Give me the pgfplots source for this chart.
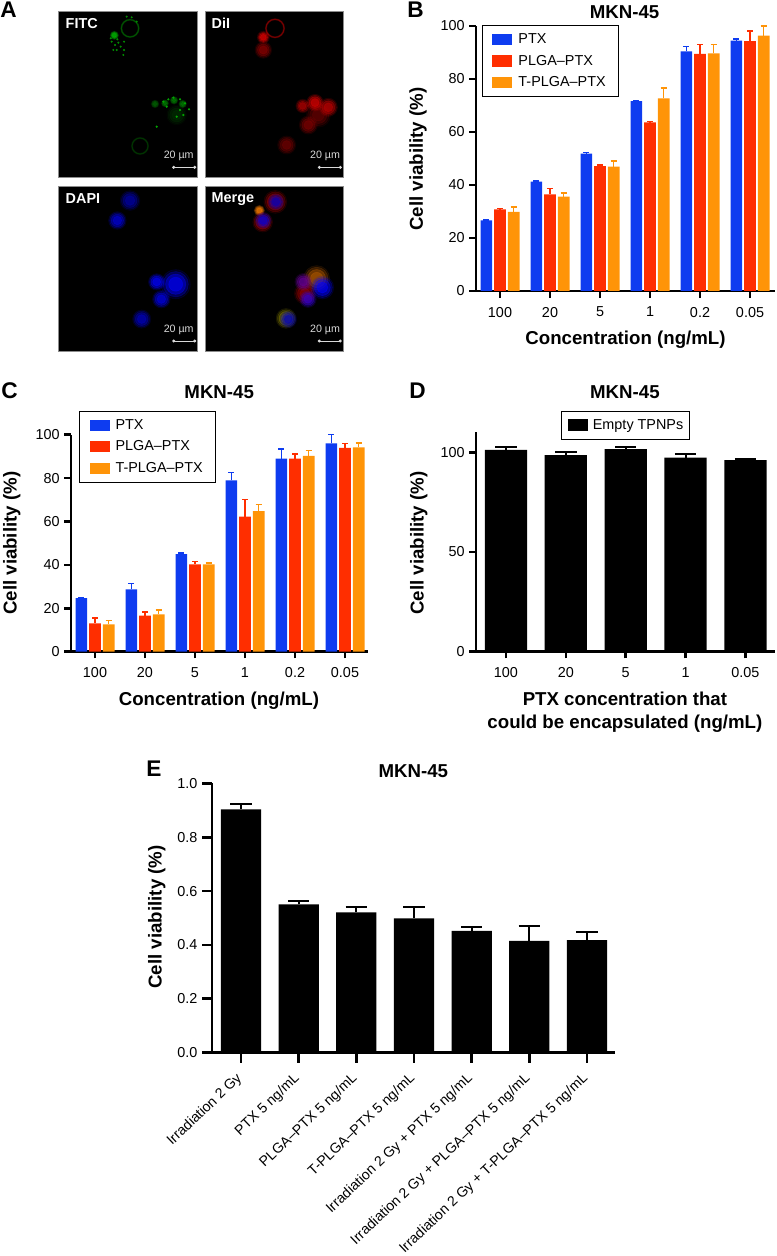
\documentclass[border=0pt]{standalone}
\usepackage{fontspec}
\setmainfont{Liberation Sans}
\usepackage{pgfplots}
\pgfplotsset{compat=1.18}
\definecolor{cblue}{HTML}{0E3CF0}
\definecolor{cred}{HTML}{FF2E00}
\definecolor{corange}{HTML}{FF9408}
\def\tickf{\fontsize{10.8}{12.5}\selectfont}
\def\labf{\fontsize{14}{16.8}\selectfont\bfseries}
\newcommand{\blob}[4]{%
 \addplot[only marks,mark=*,color=#1,mark size=#4*1.15,opacity=.12,mark options={draw=none}] coordinates {(#2,#3)};
 \addplot[only marks,mark=*,color=#1,mark size=#4,opacity=.25,mark options={draw=none}] coordinates {(#2,#3)};
 \addplot[only marks,mark=*,color=#1,mark size=#4*0.8,opacity=.4,mark options={draw=none}] coordinates {(#2,#3)};
 \addplot[only marks,mark=*,color=#1,mark size=#4*0.55,opacity=.5,mark options={draw=none}] coordinates {(#2,#3)};
}
\newcommand{\ring}[4]{%
 \addplot[only marks,mark=o,color=#1,mark size=#4,line width=1.4pt,opacity=.35] coordinates {(#2,#3)};
 \addplot[only marks,mark=o,color=#1,mark size=#4,line width=.7pt,opacity=.6] coordinates {(#2,#3)};
}
\pgfplotsset{
 micro/.style={scale only axis,width=104pt,height=124pt,at={#1},anchor=south west,clip=true,
   xtick=\empty,ytick=\empty,y dir=reverse,axis background/.style={fill=black},
   axis line style={color=black!45,line width=.6pt}},
 barax/.style={scale only axis,clip=false,axis x line=bottom,axis y line=left,
   axis line style={-,line width=2.1pt},tick align=outside,
   tick style={color=black,line width=2pt},major tick length=5pt,
   ymin=0,
   every axis title shift=0pt,
   title style={font=\labf},
   xlabel style={font=\labf,align=center,anchor=center,yshift=-1.5pt},
   ylabel style={font=\labf,anchor=center},
   tick label style={font=\tickf},
   xticklabel style={yshift=-3.5pt},
   /pgf/number format/assume math mode=true,
   ybar,
   legend cell align=left,
   legend image code/.code={\fill[##1,draw=none] (0pt,-4.2pt) rectangle (15pt,4.2pt);\path (17.5pt,0pt);},
 },
 errs/.style n args={3}{error bars/.cd,y dir=plus,y explicit,error mark options={rotate=90,mark size=#1,line width=#3,color=#2},error bar style={line width=#3,color=#2}},
}
\begin{document}
\begin{tikzpicture}
\useasboundingbox (0pt,0pt) rectangle (582pt,942pt);
% ---------- A
\begin{axis}[micro={({58.7*.75pt},{(1256-177)*.75pt})},xmin=176,xmax=592,ymin=35,ymax=531]
\ring{green!45!black}{390}{85}{6.5pt}
\blob{green!75!black}{343}{106}{2.8pt}
\addplot[only marks,mark=*,mark size=.55pt,color=green!55!black] coordinates {(335,125)(345,135)(355,128)(350,150)(362,140)(372,150)(340,150)(372,125)(370,165)(410,65)(380,50)(395,52)(332,115)(352,118)};
\blob{green!40!black}{465}{312}{2.6pt}
\blob{green!18!black}{530}{345}{6.5pt}
\blob{green!50!black}{495}{310}{2.4pt}
\blob{green!50!black}{522}{301}{2.6pt}
\blob{green!50!black}{548}{312}{2.6pt}
\addplot[only marks,mark=*,mark size=.6pt,color=green!65!black] coordinates {(490,305)(505,298)(520,293)(540,298)(555,310)(567,328)(540,330)(500,320)(530,350)(550,345)(470,380)};
\ring{green!28!black}{420}{438}{6pt}
\addplot[color=white!85!black,line width=.6pt,mark=*,mark size=.8pt] coordinates {(521,502)(584,502)};
\node[white,font=\fontsize{10.8}{12}\selectfont\bfseries,anchor=west] at (axis cs:183,71) {FITC};
\node[white!85!black,font=\fontsize{8}{10}\selectfont] at (axis cs:536,468) {20 µm};
\end{axis}
\begin{axis}[micro={({205*.75pt},{(1256-177)*.75pt})},xmin=615,xmax=1031,ymin=35,ymax=531]
\ring{red!65!black}{825}{85}{6.8pt}
\blob{red!90!black}{790}{112}{4pt}
\blob{red!55!black}{790}{150}{5.5pt}
\blob{red!40!black}{955}{345}{8pt}
\blob{red!70!black}{908}{318}{4.5pt}
\blob{red!85!black}{945}{308}{5.5pt}
\blob{red!75!black}{985}{322}{6pt}
\blob{red!50!black}{925}{375}{6pt}
\blob{red!45!black}{860}{435}{6pt}
\addplot[color=white!85!black,line width=.6pt,mark=*,mark size=.8pt] coordinates {(958,502)(1021,502)};
\node[white,font=\fontsize{10.8}{12}\selectfont\bfseries,anchor=west] at (axis cs:621,71) {DiI};
\node[white!85!black,font=\fontsize{8}{10}\selectfont] at (axis cs:975,468) {20 µm};
\end{axis}
\begin{axis}[micro={({58.7*.75pt},{(1256-351.3)*.75pt})},xmin=176,xmax=592,ymin=556,ymax=1054]
\blob{blue!65!black}{390}{600}{6.5pt}
\blob{blue!85!black}{352}{660}{5.8pt}
\blob{blue}{470}{845}{5.4pt}
\blob{blue}{527}{852}{9.5pt}
\blob{blue!90!black}{484}{897}{5.8pt}
\blob{blue!75!black}{425}{957}{6pt}
\addplot[color=white!85!black,line width=.6pt,mark=*,mark size=.8pt] coordinates {(521,1023)(584,1023)};
\node[white,font=\fontsize{10.8}{12}\selectfont\bfseries,anchor=west] at (axis cs:183,594) {DAPI};
\node[white!85!black,font=\fontsize{8}{10}\selectfont] at (axis cs:536,990) {20 µm};
\end{axis}
\begin{axis}[micro={({205*.75pt},{(1256-351.3)*.75pt})},xmin=615,xmax=1031,ymin=556,ymax=1054]
\blob{red!70!black}{826}{604}{7.5pt}
\blob{orange}{778}{630}{3.5pt}
\blob{red!70!black}{788}{665}{6.5pt}
\blob{orange!70!black}{950}{835}{8.5pt}
\blob{red!60!black}{915}{880}{7pt}
\blob{olive}{858}{955}{6.5pt}
\blob{blue!75!black}{828}{604}{5.2pt}
\blob{blue!85!black}{790}{660}{5.2pt}
\blob{blue!60!red}{910}{845}{5.6pt}
\blob{blue}{967}{862}{7.5pt}
\blob{blue!80!red}{924}{897}{5.5pt}
\blob{blue!75!black}{865}{958}{5.5pt}
\addplot[color=white!85!black,line width=.6pt,mark=*,mark size=.8pt] coordinates {(958,1023)(1021,1023)};
\node[white,font=\fontsize{10.8}{12}\selectfont\bfseries,anchor=west] at (axis cs:621,594) {Merge};
\node[white!85!black,font=\fontsize{8}{10}\selectfont] at (axis cs:975,990) {20 µm};
\end{axis}
% ---------- B
\begin{axis}[barax,at={({476*.75pt},{(1256-291)*.75pt})},anchor=south west,width=224.25pt,height=198.75pt,
 xmin=-0.48,xmax=5.5,ymax=100,ytick={0,20,...,100},xtick={0,...,5},xticklabels={100,20,5,1,0.2,0.05},
 bar width=8.75pt,
 title={MKN-45},title style={at={(0.497,1.052)},anchor=center},
 xlabel={Concentration (ng/mL)},xlabel style={at={(0.5,-0.177)}},
 ylabel={Cell viability (\%)},ylabel style={at={(-0.194,0.498)}},
 legend style={at={(0.021,1.003)},anchor=north west,draw=black,line width=.5pt,font=\tickf,row sep=3.2pt,inner xsep=7.4pt,inner ysep=4pt},
]
\addplot[fill=cblue,draw=none,bar shift=-10.25pt,errs={2.2pt}{cblue}{1.2pt}] coordinates {(0,26.6)+-(0,0.3)(1,41.3)+-(0,0.2)(2,51.8)+-(0,0.5)(3,71.6)+-(0,0.2)(4,90.4)+-(0,1.8)(5,94.5)+-(0,0.5)};
\addplot[fill=cred,draw=none,bar shift=0pt,errs={2.2pt}{cred}{1.2pt}] coordinates {(0,30.8)+-(0,0.3)(1,36.5)+-(0,2.2)(2,47.1)+-(0,0.5)(3,63.6)+-(0,0.3)(4,89.5)+-(0,3.5)(5,94.3)+-(0,3.9)};
\addplot[fill=corange,draw=none,bar shift=10.25pt,errs={2.2pt}{corange}{1.2pt}] coordinates {(0,29.9)+-(0,1.7)(1,35.6)+-(0,1.4)(2,46.9)+-(0,2.2)(3,72.7)+-(0,4)(4,89.7)+-(0,3.3)(5,96.4)+-(0,3.6)};
\legend{PTX,PLGA–PTX,T-PLGA–PTX}
\end{axis}
% ---------- C
\begin{axis}[barax,at={({71*.75pt},{(1256-651.7)*.75pt})},anchor=south west,width=222.75pt,height=162.75pt,
 xmin=-0.48,xmax=5.46,ymax=100,ytick={0,20,...,100},xtick={0,...,5},xticklabels={100,20,5,1,0.2,0.05},
 bar width=8.75pt,
 title={MKN-45},title style={at={(0.499,1.198)},anchor=center},
 xlabel={Concentration (ng/mL)},xlabel style={at={(0.498,-0.218)}},
 ylabel={Cell viability (\%)},ylabel style={at={(-0.199,0.5)}},
 legend style={at={(0.028,1.11)},anchor=north west,draw=black,line width=.5pt,font=\tickf,row sep=3.2pt,inner xsep=7.4pt,inner ysep=4pt},
]
\addplot[fill=cblue,draw=none,bar shift=-10.25pt,errs={2.2pt}{cblue}{1.2pt}] coordinates {(0,24.7)+-(0,0.3)(1,28.7)+-(0,2.8)(2,45)+-(0,0.4)(3,79)+-(0,3.6)(4,89)+-(0,4.5)(5,96)+-(0,4)};
\addplot[fill=cred,draw=none,bar shift=0pt,errs={2.2pt}{cred}{1.2pt}] coordinates {(0,13)+-(0,2.4)(1,16.6)+-(0,1.8)(2,40.2)+-(0,1.3)(3,62.2)+-(0,8)(4,89)+-(0,2)(5,93.9)+-(0,2)};
\addplot[fill=corange,draw=none,bar shift=10.25pt,errs={2.2pt}{corange}{1.2pt}] coordinates {(0,12.6)+-(0,1.7)(1,17.2)+-(0,2)(2,40.2)+-(0,0.8)(3,64.8)+-(0,3)(4,90.2)+-(0,2.6)(5,94.2)+-(0,2)};
\legend{PTX,PLGA–PTX,T-PLGA–PTX}
\end{axis}
% ---------- D
\begin{axis}[barax,at={({476*.75pt},{(1256-651.7)*.75pt})},anchor=south west,width=224.25pt,height=164.55pt,
 xmin=-0.501,xmax=4.494,ymax=110,ytick={0,50,100},xtick={0,...,4},xticklabels={100,20,5,1,0.05},
 bar width=31.7pt,
 title={MKN-45},title style={at={(0.498,1.185)},anchor=center},
 xlabel={PTX concentration that\\could be encapsulated (ng/mL)},xlabel style={at={(0.498,-0.266)}},
 ylabel={Cell viability (\%)},ylabel style={at={(-0.191,0.495)}},
 legend style={at={(0.285,1.098)},anchor=north west,draw=black,line width=.5pt,font=\tickf,inner xsep=2.5pt,inner ysep=4pt},
 legend image code/.code={\fill[#1,draw=none] (0pt,-4.5pt) rectangle (14.5pt,4.5pt);\path (-2.5pt,0pt) (16.5pt,0pt);},
]
\addplot[fill=black,draw=none,bar shift=0pt,errs={8pt}{black}{1.5pt}] coordinates {(0,101.2)+-(0,1.3)(1,98.5)+-(0,1.7)(2,101.5)+-(0,1)(3,97.3)+-(0,1.7)(4,96)+-(0,0.7)};
\legend{Empty TPNPs}
\end{axis}
% ---------- E
\begin{axis}[barax,at={({212*.75pt},{(1256-1052.7)*.75pt})},anchor=south west,width=302.25pt,height=202.05pt,
 xmin=-0.503,xmax=6.485,ymax=1,ytick={0,0.2,...,1},major tick length=7.5pt,
 yticklabel style={/pgf/number format/.cd,fixed,fixed zerofill,precision=1},
 xtick={0,...,6},
 xticklabels={Irradiation 2 Gy,PTX 5 ng/mL,PLGA–PTX 5 ng/mL,T-PLGA–PTX 5 ng/mL,Irradiation 2 Gy + PTX 5 ng/mL,Irradiation 2 Gy + PLGA–PTX 5 ng/mL,Irradiation 2 Gy + T-PLGA–PTX 5 ng/mL},
 xticklabel style={rotate=43.5,anchor=north east,font=\fontsize{10.6}{12.5}\selectfont,xshift=-2pt,yshift=4pt},
 bar width=30.2pt,
 title={MKN-45},title style={at={(0.4995,1.046)},anchor=center},
 ylabel={Cell viability (\%)},ylabel style={at={(-0.137,0.504)}},
]
\addplot[fill=black,draw=none,bar shift=0pt,errs={8pt}{black}{1.5pt}] coordinates {(0,0.903)+-(0,0.019)(1,0.551)+-(0,0.012)(2,0.521)+-(0,0.019)(3,0.499)+-(0,0.043)(4,0.452)+-(0,0.016)(5,0.415)+-(0,0.055)(6,0.418)+-(0,0.031)};
\end{axis}
% ---------- panel letters
\node[inner sep=0pt,font=\fontsize{17}{20}\selectfont\bfseries,anchor=west] at (0pt,{(1256-10)*.75pt}) {A};
\node[inner sep=0pt,font=\fontsize{17}{20}\selectfont\bfseries,anchor=west] at ({407*.75pt},{(1256-10)*.75pt}) {B};
\node[inner sep=0pt,font=\fontsize{17}{20}\selectfont\bfseries,anchor=west] at ({1*.75pt},{(1256-391)*.75pt}) {C};
\node[inner sep=0pt,font=\fontsize{17}{20}\selectfont\bfseries,anchor=west] at ({409*.75pt},{(1256-391)*.75pt}) {D};
\node[inner sep=0pt,font=\fontsize{17}{20}\selectfont\bfseries,anchor=west] at ({146*.75pt},{(1256-769)*.75pt}) {E};
\end{tikzpicture}
\end{document}
